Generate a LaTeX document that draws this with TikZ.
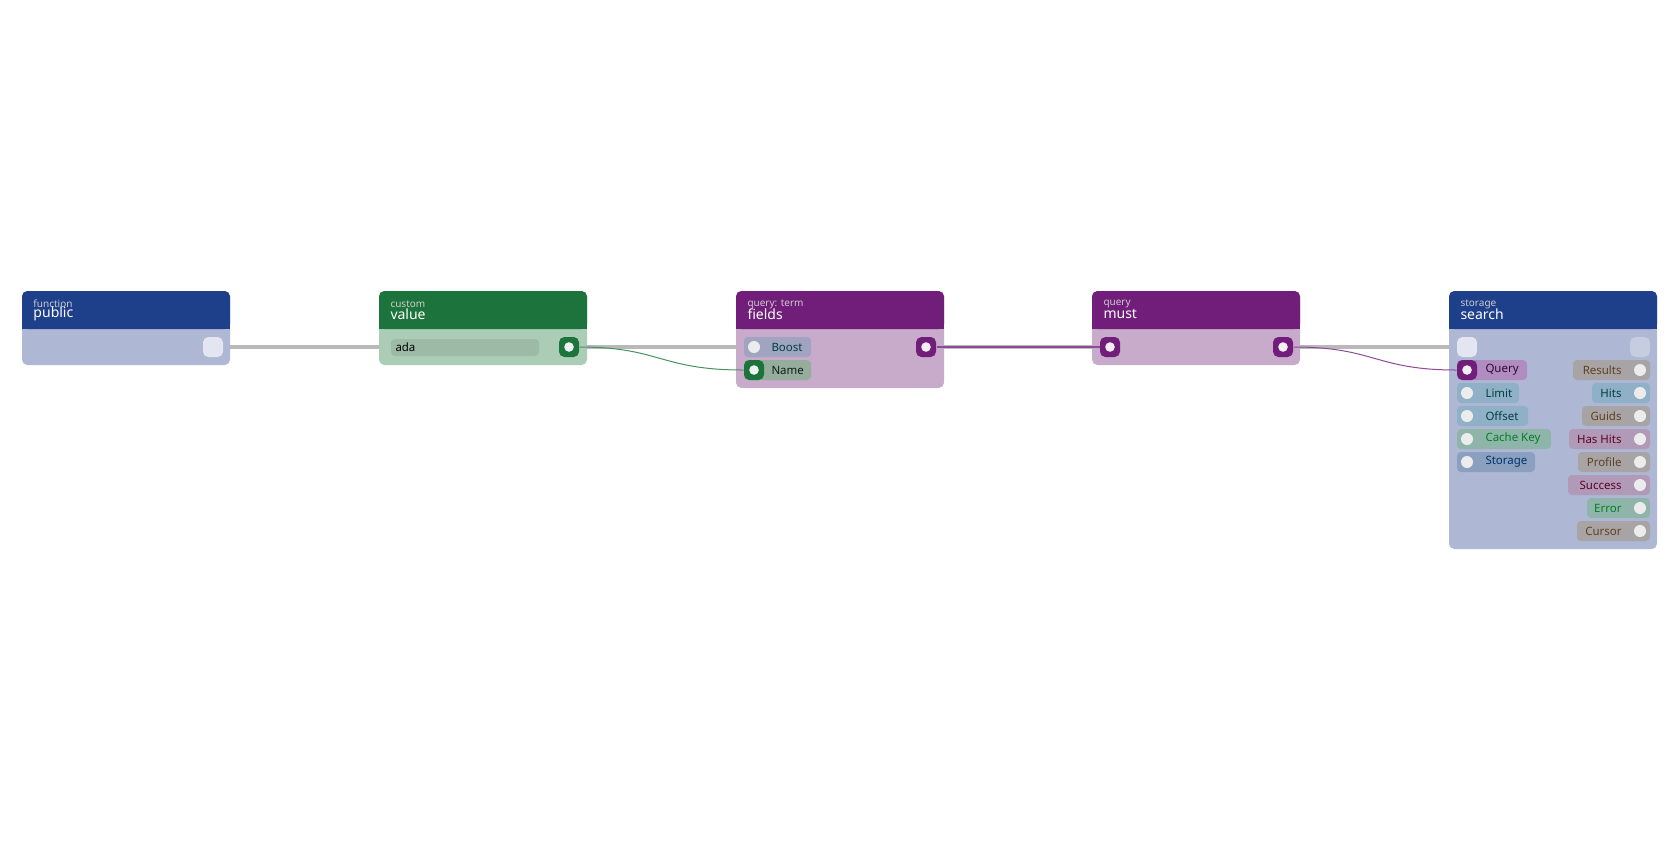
\documentclass[tikz,border=0pt]{standalone}
\usepackage{fontspec}
\setmainfont{Noto Sans}
\usetikzlibrary{positioning}
\definecolor{hdblue}{RGB}{30,63,138}
\definecolor{bdblue}{RGB}{174,184,212}
\definecolor{hdgreen}{RGB}{28,116,60}
\definecolor{bdgreen}{RGB}{171,205,181}
\definecolor{hdpurple}{RGB}{112,30,122}
\definecolor{bdpurple}{RGB}{200,170,203}
\definecolor{pquery}{RGB}{176,140,192}
\definecolor{pteal}{RGB}{143,176,198}
\definecolor{pgreen}{RGB}{143,181,170}
\definecolor{pstore}{RGB}{138,160,190}
\definecolor{pgray}{RGB}{168,164,166}
\definecolor{pmauve}{RGB}{176,154,184}
\definecolor{pfield}{RGB}{156,186,166}
\definecolor{pname}{RGB}{150,172,156}
\definecolor{pboost}{RGB}{160,164,192}
\definecolor{wire}{RGB}{185,185,185}
\tikzset{every picture/.style={line width=0.75pt}}
\tikzset{
  port/.style={fill=#1,rounded corners=4pt,inner sep=0pt,minimum size=15pt,
    path picture={\fill[white!92!#1] (path picture bounding box.center) circle (3.6pt);}},
  dot/.style={fill=white!85!gray,circle,inner sep=0pt,minimum size=9pt},
  kind/.style={anchor=west,inner sep=0pt,text=white!80!black,font=\fontsize{7.5}{8}\selectfont},
  title/.style={anchor=west,inner sep=0pt,text=white,font=\fontsize{10.5}{11}\selectfont},
  ptext/.style={inner sep=0pt,font=\fontsize{8.6}{9}\selectfont,text=#1},
}
% card: name, left x, right x, bottom y, header colour, body colour, kind, title
\newcommand{\card}[8]{
  \fill[#6,rounded corners=4pt] (#2,291) rectangle (#3,#4);
  \fill[#5,rounded corners=4pt] (#2,291) rectangle (#3,329);
  \fill[#5] (#2,315) rectangle (#3,329);
  \node[kind] (#1k) at (#2+11,304) {#7};
  \node[title] (#1t) at (#2+11,314) {#8};
}
% left input pill: name, y, width, fill, text colour, label
\newcommand{\inpill}[6]{
  \fill[#4,rounded corners=3pt] (1457,#2-10) rectangle (1457+#3,#2+10);
  \node[dot] (#1) at (1467,#2) {};
  \node[ptext=#5,anchor=west] at (1485,#2) {#6};
}
% right output pill
\newcommand{\outpill}[6]{
  \fill[#4,rounded corners=3pt] (1650-#3,#2-10) rectangle (1650,#2+10);
  \node[dot] (#1) at (1640,#2) {};
  \node[ptext=#5,anchor=east] at (1622,#2) {#6};
}
\begin{document}
\begin{tikzpicture}[x=0.75pt,y=0.75pt,yscale=-1,xscale=1]
\useasboundingbox (0,0) rectangle (1680,840);

%wire behind cards
\coordinate (pubout) at (213,347);
\coordinate (srchin) at (1467,347);
\draw[wire,line width=3.5pt] (pubout) -- (srchin);

%Cards
\card{pub}{22}{230}{365}{hdblue}{bdblue}{function}{public}
\card{val}{379}{587}{365}{hdgreen}{bdgreen}{custom}{value}
\card{fld}{736}{944}{388}{hdpurple}{bdpurple}{query: term}{fields}
\card{must}{1092}{1300}{365}{hdpurple}{bdpurple}{query}{must}
\card{srch}{1449}{1657}{549}{hdblue}{bdblue}{storage}{search}

%public
\node[port=white!65!bdblue] (puboutp) at (pubout) {};

%value
\fill[pfield,rounded corners=3pt] (391,339) rectangle (539,356);
\node[ptext=black,anchor=west] (ada) at (395,347) {ada};
\node[port=hdgreen] (valout) at (569,347) {};

%fields
\fill[pboost,rounded corners=3pt] (744,337) rectangle (811,357);
\fill[pname,rounded corners=3pt] (744,360) rectangle (811,380);
\node[dot] (boost) at (754,347) {};
\node[port=hdgreen] (name) at (754,370) {};
\node[ptext=black!50!teal,anchor=west] at (771,347) {Boost};
\node[ptext=black!70!hdgreen,anchor=west] at (771,370) {Name};
\node[port=hdpurple] (fldout) at (926,347) {};

%must
\node[port=hdpurple] (mustin) at (1110,347) {};
\node[port=hdpurple] (mustout) at (1283,347) {};

%search
\node[port=white!65!bdblue] (srchinp) at (srchin) {};
\node[port=white!30!bdblue] (srchout) at (1640,347) {};
\fill[pquery,rounded corners=3pt] (1457,360) rectangle (1527,380);
\node[port=hdpurple] (query) at (1467,370) {};
\node[ptext=black!60!hdpurple,anchor=west] at (1485,370) {Query};
\inpill{limit}{393}{62}{pteal}{black!50!teal}{Limit}
\inpill{offset}{416}{71}{pteal}{black!50!teal}{Offset}
\inpill{cache}{439}{94}{pgreen}{black!50!green!70!teal}{Cache Key}
\inpill{storage}{462}{78}{pstore}{black!60!blue!60!teal}{Storage}
\outpill{results}{370}{77}{pgray}{black!50!brown}{Results}
\outpill{hits}{393}{58}{pteal}{black!50!teal}{Hits}
\outpill{guids}{416}{68}{pgray}{black!50!brown}{Guids}
\outpill{hashits}{439}{81}{pmauve}{black!50!purple}{Has Hits}
\outpill{profile}{462}{72}{pgray}{black!50!brown}{Profile}
\outpill{success}{485}{82}{pmauve}{black!50!purple}{Success}
\outpill{error}{508}{63}{pgreen}{black!50!green!70!teal}{Error}
\outpill{cursor}{531}{73}{pgray}{black!50!brown}{Cursor}

%connectors
\draw[hdgreen!80!white] (valout) .. controls (660,347) and (660,370) .. (name);
\draw[hdpurple!80!white,line width=1pt] (fldout) -- (mustin);
\draw[hdpurple!80!white] (mustout) .. controls (1375,347) and (1375,370) .. (query);
\end{tikzpicture}
\end{document}
